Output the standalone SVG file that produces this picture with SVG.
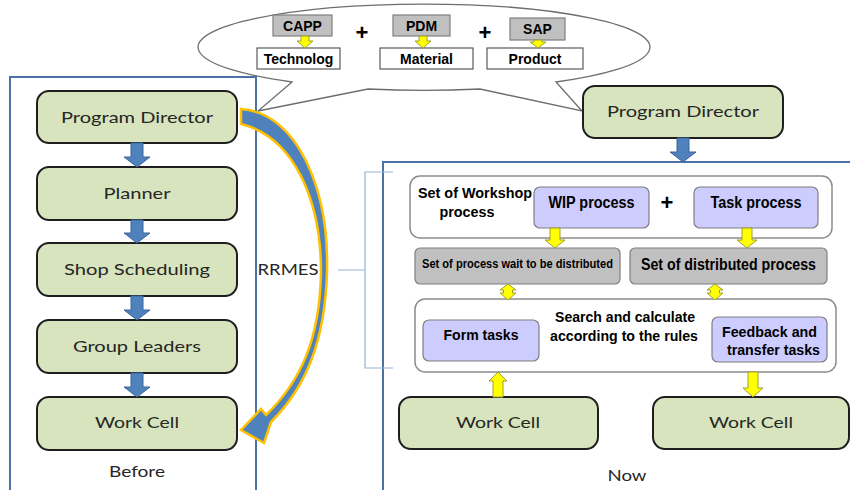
<svg xmlns="http://www.w3.org/2000/svg" width="850" height="490" viewBox="0 0 850 490">
<style>
.panel{fill:none;stroke:#4A72A6;stroke-width:2}
.node{fill:#D7E4BD;stroke:#1E1E1E;stroke-width:2}
.nt{font-family:Lato,"Liberation Sans",sans-serif;font-size:15px;fill:#262626;text-anchor:middle}
.bt{font-family:"Liberation Sans Narrow","Liberation Sans",Arial,sans-serif;font-weight:bold;fill:#000;text-anchor:middle}
.ct{font-family:"Liberation Sans",Arial,sans-serif;font-weight:bold;font-size:14px;fill:#000;text-anchor:middle}
.plus{font-family:"Liberation Sans",Arial,sans-serif;font-weight:bold;font-size:22px;fill:#000;text-anchor:middle}
.grey{fill:#C0C0C0;stroke:#7F7F7F;stroke-width:1.2}
.wbox{fill:#fff;stroke:#5A5A5A;stroke-width:1.2}
.lav{fill:#CCCCFF;stroke:#7F7F7F;stroke-width:1.2}
.outer{fill:#fff;stroke:#8C8C8C;stroke-width:1.5}
.blue{fill:#4F81BD;stroke:#3A669C;stroke-width:1}
.yel{fill:#FFFF00;stroke:#A0A030;stroke-width:1}
.brk{fill:none;stroke:#95B3D7;stroke-width:1.2}
</style>

<!-- callout -->
<g id="callout">
<path d="M 292,82 L 258,111 L 368,89 A 226 43 0 0 0 480,89 L 582,111 L 556,82 A 226 43 0 1 0 292,82 Z" fill="#fff" stroke="#6E6E6E" stroke-width="1.3"/>
</g>

<!-- panels -->
<rect class="panel" x="10" y="77" width="246" height="420"/>
<rect class="panel" x="383" y="162" width="480" height="340"/>

<g id="sources">
<g id="capp"><rect class="grey" x="273" y="15" width="59" height="21"/><text class="ct" x="302.5" y="31">CAPP</text></g>
<g id="pdm"><rect class="grey" x="393" y="15" width="57" height="21"/><text class="ct" x="421.5" y="31">PDM</text></g>
<g id="sap"><rect class="grey" x="510" y="18" width="55" height="22"/><text class="ct" x="537.5" y="34">SAP</text></g>
<g id="technolog"><rect class="wbox" x="257" y="48" width="83" height="21"/><text class="ct" x="298.5" y="64">Technolog</text></g>
<g id="material"><rect class="wbox" x="380" y="48" width="93" height="21"/><text class="ct" x="426.5" y="64">Material</text></g>
<g id="product"><rect class="wbox" x="487" y="48" width="96" height="21"/><text class="ct" x="535" y="64">Product</text></g>
<text class="plus" x="362" y="40">+</text>
<text class="plus" x="485" y="40">+</text>
</g>

<!-- left nodes -->
<g id="pd-left"><rect class="node" x="37" y="91" width="200" height="52" rx="12"/><text class="nt" x="137" y="123" textLength="152" lengthAdjust="spacingAndGlyphs">Program Director</text></g>
<g id="planner"><rect class="node" x="37" y="167" width="200" height="53" rx="12"/><text class="nt" x="137" y="199" textLength="67" lengthAdjust="spacingAndGlyphs">Planner</text></g>
<g id="shop"><rect class="node" x="37" y="243" width="200" height="53" rx="12"/><text class="nt" x="137" y="275" textLength="146" lengthAdjust="spacingAndGlyphs">Shop Scheduling</text></g>
<g id="group"><rect class="node" x="37" y="320" width="200" height="53" rx="12"/><text class="nt" x="137" y="352" textLength="128" lengthAdjust="spacingAndGlyphs">Group Leaders</text></g>
<g id="wc-left"><rect class="node" x="37" y="397" width="200" height="53" rx="12"/><text class="nt" x="137" y="428" textLength="84" lengthAdjust="spacingAndGlyphs">Work Cell</text></g>
<text class="nt" x="137" y="477" textLength="56" lengthAdjust="spacingAndGlyphs">Before</text>
<text class="nt" x="288" y="275" textLength="61" lengthAdjust="spacingAndGlyphs">RRMES</text>

<!-- right nodes -->
<g id="pd-right"><rect class="node" x="583" y="86" width="200" height="52" rx="12"/><text class="nt" x="683" y="117" textLength="152" lengthAdjust="spacingAndGlyphs">Program Director</text></g>

<g id="workshop">
<rect class="outer" x="410" y="176" width="422" height="62" rx="10"/>
<text class="bt" x="475" y="198" font-size="15" textLength="114" lengthAdjust="spacingAndGlyphs">Set of Workshop</text>
<text class="bt" x="467" y="217" font-size="15" textLength="55" lengthAdjust="spacingAndGlyphs">process</text>
</g>
<g id="wip"><rect class="lav" x="534" y="187" width="115" height="41" rx="6"/><text class="bt" x="591.5" y="208" font-size="16" textLength="86" lengthAdjust="spacingAndGlyphs">WIP process</text></g>
<text class="bt" x="667" y="210" font-size="22">+</text>
<g id="task"><rect class="lav" x="694" y="187" width="124" height="41" rx="6"/><text class="bt" x="756" y="208" font-size="16" textLength="91" lengthAdjust="spacingAndGlyphs">Task process</text></g>

<g id="wait"><rect class="grey" x="415" y="248" width="205" height="36" rx="5"/><text class="bt" x="517.5" y="268" font-size="12" textLength="191" lengthAdjust="spacingAndGlyphs">Set of process wait to be distributed</text></g>
<g id="distributed"><rect class="grey" x="630" y="248" width="197" height="36" rx="5"/><text class="bt" x="728.5" y="270" font-size="16" textLength="175" lengthAdjust="spacingAndGlyphs">Set of distributed process</text></g>

<g id="search">
<rect class="outer" x="415" y="299" width="421" height="73" rx="10"/>
<text class="bt" x="625" y="322" font-size="15" textLength="140" lengthAdjust="spacingAndGlyphs">Search and calculate</text>
<text class="bt" x="624" y="341" font-size="15" textLength="148" lengthAdjust="spacingAndGlyphs">according to the rules</text>
</g>
<g id="form"><rect class="lav" x="423" y="320" width="116" height="41" rx="6"/><text class="bt" x="481" y="340" font-size="15" textLength="75" lengthAdjust="spacingAndGlyphs">Form tasks</text></g>
<g id="feedback"><rect class="lav" x="712" y="317" width="115" height="45" rx="6"/><text class="bt" x="769.5" y="337" font-size="15" textLength="95" lengthAdjust="spacingAndGlyphs">Feedback and</text><text class="bt" x="773.5" y="355" font-size="15" textLength="93" lengthAdjust="spacingAndGlyphs">transfer tasks</text></g>

<g id="wc-r1"><rect class="node" x="399" y="397" width="199" height="52" rx="12"/><text class="nt" x="498" y="428" textLength="84" lengthAdjust="spacingAndGlyphs">Work Cell</text></g>
<g id="wc-r2"><rect class="node" x="653" y="397" width="196" height="52" rx="12"/><text class="nt" x="751" y="428" textLength="84" lengthAdjust="spacingAndGlyphs">Work Cell</text></g>
<text class="nt" x="627" y="481" textLength="39" lengthAdjust="spacingAndGlyphs">Now</text>

<!-- connectors -->
<g id="connectors">
<polygon class="blue" points="131,143 143,143 143,157 150,157 137,167 124,157 131,157"/>
<polygon class="blue" points="131,220 143,220 143,233 150,233 137,243 124,233 131,233"/>
<polygon class="blue" points="131,296 143,296 143,310 150,310 137,320 124,310 131,310"/>
<polygon class="blue" points="131,373 143,373 143,387 150,387 137,397 124,387 131,387"/>
<polygon class="blue" points="677,138 689,138 689,152 696,152 683,162 670,152 677,152"/>

<polygon class="yel" points="301,36 309,36 309,41 313,41 305,48 297,41 301,41"/>
<polygon class="yel" points="419,36 427,36 427,41 431,41 423,48 415,41 419,41"/>
<polygon class="yel" points="534,40 542,40 542,42 546,42 538,48 530,42 534,42"/>

<polygon class="yel" points="550,228 560,228 560,240 565,240 555,248 545,240 550,240"/>
<polygon class="yel" points="742,228 752,228 752,240 757,240 747,248 737,240 742,240"/>
<polygon class="yel" points="508,284 516,290 512.5,290 512.5,293 516,293 508,300 500,293 503.5,293 503.5,290 500,290"/>
<polygon class="yel" points="715,284 723,290 719.5,290 719.5,293 723,293 715,300 707,293 710.5,293 710.5,290 707,290"/>
<polygon class="yel" points="498,372 507,381 503,381 503,397 493,397 493,381 489,381"/>
<polygon class="yel" points="748,372 758,372 758,388 763,388 753,397 743,388 748,388"/>

<path d="M 241,109 C 298,113 329,190 327,272 C 325,340 307,386 271,422 L 264,443 L 241,430 L 261,409 L 266,415 C 300,382 320,340 321,272 C 321,200 294,137 241,124 Z" fill="#4F81BD" stroke="#FFC000" stroke-width="2.5" stroke-linejoin="miter"/>

<path class="brk" d="M 338,270 L 365,270 M 393,172 L 365,172 L 365,368 L 393,368"/>
</g>
</svg>
